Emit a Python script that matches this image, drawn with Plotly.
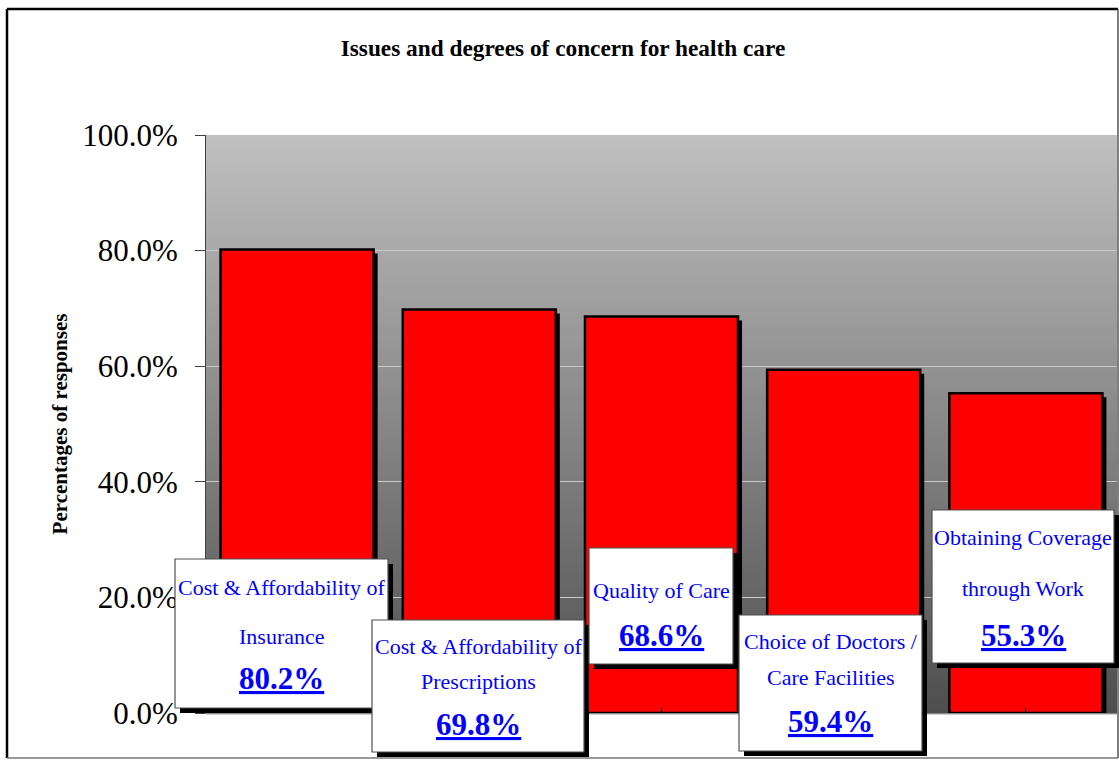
import plotly.graph_objects as go

# ---------------- data ----------------
categories = [
    "Cost & Affordability of<br>Insurance",
    "Cost & Affordability of<br>Prescriptions",
    "Quality of Care",
    "Choice of Doctors /<br>Care Facilities",
    "Obtaining Coverage<br>through Work",
]
values = [80.2, 69.8, 68.6, 59.4, 55.3]
y_ticks = [0, 20, 40, 60, 80, 100]

title_text = "Issues and degrees of concern for health care"
y_title = "Percentages of responses"

# ---------------- layout geometry (pixels) ----------------
WIDTH, HEIGHT = 1119, 760
L, R, T, B = 206, 1117, 135, 713
PW, PH = R - L, B - T

def px_x(px):
    return (px - L) / PW

def px_y(py):
    return (B - py) / PH

# label boxes: (left, top, right, bottom), line centres, percent centre
box_px = [
    (175, 559, 388, 708),
    (372, 620, 584, 752),
    (589, 548, 733, 664),
    (739, 615, 922, 751),
    (932, 510, 1114, 663),
]
line_y_px = [[587, 636], [646, 681], [590], [641, 677], [537, 588]]
pct_y_px = [678, 724, 635, 721, 635]

SERIF = "Liberation Serif, Times New Roman, serif"
BAR_W = 0.84
SHADOW_PX = 4
cat_px = PW / len(categories)
unit_px = PH / 100.0

fig = go.Figure()

# bar shadows
fig.add_trace(go.Bar(
    x=categories, y=values,
    base=-SHADOW_PX / unit_px,
    width=BAR_W, offset=-BAR_W / 2 + SHADOW_PX / cat_px,
    marker=dict(color="black", line=dict(width=0)),
    hoverinfo="skip", showlegend=False,
))
# bars
fig.add_trace(go.Bar(
    x=categories, y=values,
    width=BAR_W, offset=-BAR_W / 2,
    marker=dict(color="#FF0000", line=dict(color="black", width=2.5)),
    showlegend=False,
    hovertemplate="%{x}: %{y:.1f}%<extra></extra>",
))

shapes = []
# gradient background of the plot area
N = 140
for i in range(N):
    f0 = i / N
    f1 = (i + 1) / N
    fm = (f0 + f1) / 2  # fraction from top
    g = int(round(192 - (192 - 78) * fm))
    shapes.append(dict(
        type="rect", xref="x domain", yref="y domain",
        x0=0, x1=1, y0=1 - f1 - 0.002, y1=1 - f0,
        fillcolor=f"rgb({g},{g},{g})", line=dict(width=0), layer="below",
    ))

# outer frame
shapes += [
    dict(type="line", xref="paper", yref="paper", x0=px_x(7), x1=px_x(1118), y0=px_y(9), y1=px_y(9),
         line=dict(color="black", width=2.5)),
    dict(type="line", xref="paper", yref="paper", x0=px_x(7), x1=px_x(7), y0=px_y(9), y1=px_y(758),
         line=dict(color="black", width=2.5)),
    dict(type="line", xref="paper", yref="paper", x0=px_x(1118), x1=px_x(1118), y0=px_y(9), y1=px_y(758),
         line=dict(color="#555555", width=1.5)),
    dict(type="line", xref="paper", yref="paper", x0=px_x(7), x1=px_x(1118), y0=px_y(758), y1=px_y(758),
         line=dict(color="#777777", width=1.5)),
]

annotations = []
SH = 5
for i, (x0, y0, x1, y1) in enumerate(box_px):
    shapes.append(dict(
        type="rect", xref="paper", yref="paper",
        x0=px_x(x0 + SH), x1=px_x(x1 + SH), y0=px_y(y1 + SH), y1=px_y(y0 + SH),
        fillcolor="black", line=dict(width=0), layer="above",
    ))
    shapes.append(dict(
        type="rect", xref="paper", yref="paper",
        x0=px_x(x0), x1=px_x(x1), y0=px_y(y1), y1=px_y(y0),
        fillcolor="white", line=dict(color="#505050", width=1.2), layer="above",
    ))
    cx = px_x((x0 + x1) / 2)
    for line, ly in zip(categories[i].split("<br>"), line_y_px[i]):
        annotations.append(dict(
            xref="paper", yref="paper", x=cx, y=px_y(ly),
            xanchor="center", yanchor="middle", showarrow=False,
            text=line, font=dict(family=SERIF, size=22, color="#0000FF"),
        ))
    annotations.append(dict(
        xref="paper", yref="paper", x=cx, y=px_y(pct_y_px[i]),
        xanchor="center", yanchor="middle", showarrow=False,
        text=f"<b><u>{values[i]:.1f}%</u></b>",
        font=dict(family=SERIF, size=31, color="#0000FF"),
    ))

fig.update_layout(
    width=WIDTH, height=HEIGHT,
    margin=dict(l=L, r=WIDTH - R, t=T, b=HEIGHT - B, autoexpand=False),
    paper_bgcolor="white", plot_bgcolor="#C0C0C0",
    barmode="overlay",
    title=dict(
        text=f"<b>{title_text}</b>", x=563 / WIDTH, xanchor="center", xref="container",
        y=1 - 48 / HEIGHT, yanchor="middle", yref="container",
        font=dict(family=SERIF, size=23.3, color="black"),
    ),
    xaxis=dict(
        range=[-0.5, len(categories) - 0.5],
        showticklabels=False, ticks="inside", ticklen=5, tickcolor="black",
        showline=True, linecolor="#888888", linewidth=1,
        showgrid=False, zeroline=False, fixedrange=True,
    ),
    yaxis=dict(
        range=[0, 100], tickvals=y_ticks, ticktext=[f"{v:.1f}%" for v in y_ticks],
        ticks="outside", ticklen=10, tickcolor="#404040", tickwidth=1,
        ticklabelstandoff=11,
        tickfont=dict(family=SERIF, size=31, color="black"),
        showline=True, linecolor="#404040", linewidth=1,
        showgrid=True, gridcolor="#C8C8C8", gridwidth=1, zeroline=False,
        title=dict(text=f"<b>{y_title}</b>", standoff=8,
                   font=dict(family=SERIF, size=21, color="black")),
        fixedrange=True,
    ),
    shapes=shapes, annotations=annotations,
)

fig.write_html("out.html")
